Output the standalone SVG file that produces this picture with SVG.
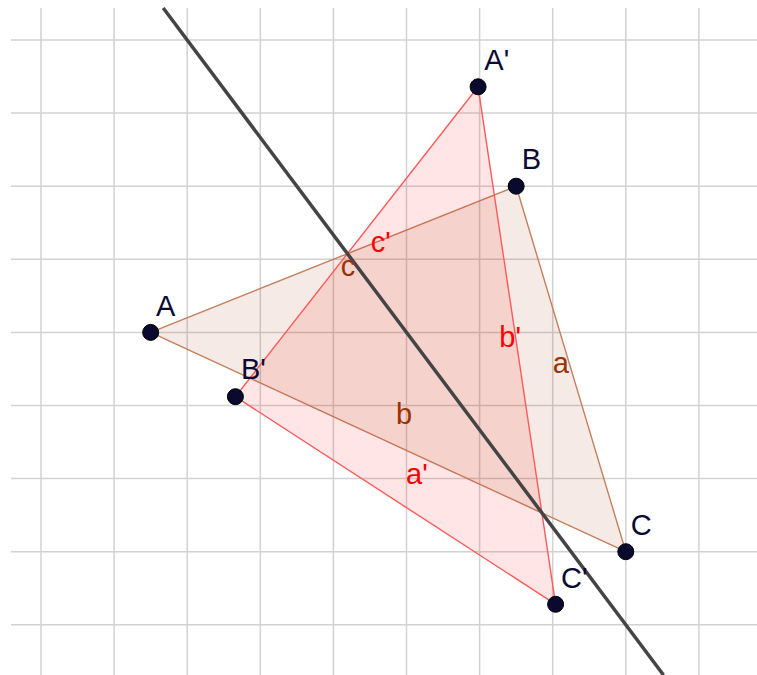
<svg xmlns="http://www.w3.org/2000/svg" width="757" height="675" viewBox="0 0 757 675">
<style>
.grid line{stroke:#d2d2d2;stroke-width:1.5}
.pt{fill:#0a0a2e;stroke:#000;stroke-width:1}
.pl{font-family:"Liberation Sans",Arial,sans-serif;font-size:29px;fill:#0a0a33}
.sl{font-family:"Liberation Sans",Arial,sans-serif;font-size:29px}
.br{fill:#993300}
.rd{fill:#ff0000}
</style>
<rect width="757" height="675" fill="#ffffff"/>
<g class="grid" id="grid">
<line x1="41" y1="8" x2="41" y2="675"/>
<line x1="114.1" y1="8" x2="114.1" y2="675"/>
<line x1="187.2" y1="8" x2="187.2" y2="675"/>
<line x1="260.3" y1="8" x2="260.3" y2="675"/>
<line x1="333.4" y1="8" x2="333.4" y2="675"/>
<line x1="406.5" y1="8" x2="406.5" y2="675"/>
<line x1="479.6" y1="8" x2="479.6" y2="675"/>
<line x1="552.7" y1="8" x2="552.7" y2="675"/>
<line x1="625.8" y1="8" x2="625.8" y2="675"/>
<line x1="698.9" y1="8" x2="698.9" y2="675"/>
<line x1="11" y1="40" x2="757" y2="40"/>
<line x1="11" y1="113.1" x2="757" y2="113.1"/>
<line x1="11" y1="186.2" x2="757" y2="186.2"/>
<line x1="11" y1="259.3" x2="757" y2="259.3"/>
<line x1="11" y1="332.4" x2="757" y2="332.4"/>
<line x1="11" y1="405.5" x2="757" y2="405.5"/>
<line x1="11" y1="478.6" x2="757" y2="478.6"/>
<line x1="11" y1="551.7" x2="757" y2="551.7"/>
<line x1="11" y1="624.8" x2="757" y2="624.8"/>
</g>
<g id="connectors">
<polygon id="triABC" points="150.65,332.4 516.15,186.2 625.8,551.7" fill="#993300" fill-opacity="0.1" stroke="#c2805c" stroke-width="1.4" stroke-linejoin="round"/>
<polygon id="triA1B1C1" points="478.1,86.8 235.4,396.7 555.6,604.3" fill="#ff0000" fill-opacity="0.1" stroke="#ff5a5a" stroke-width="1.4" stroke-linejoin="round"/>
<line id="mirror" x1="163.2" y1="8" x2="663.5" y2="675" stroke="#444444" stroke-width="3.5"/>
</g>
<g id="segment-labels">
<text class="sl br" x="340.7" y="276">c</text>
<text class="sl rd" x="370.7" y="251.7">c'</text>
<text class="sl br" x="396" y="424.3">b</text>
<text class="sl rd" x="406" y="484">a'</text>
<text class="sl rd" x="499.3" y="346.7">b'</text>
<text class="sl br" x="552.7" y="373.3">a</text>
</g>
<g id="A"><circle class="pt" cx="150.65" cy="332.4" r="8"/><text class="pl" x="156" y="316">A</text></g>
<g id="B"><circle class="pt" cx="516.15" cy="186.2" r="8"/><text class="pl" x="521.7" y="169.3">B</text></g>
<g id="C"><circle class="pt" cx="625.8" cy="551.7" r="8"/><text class="pl" x="630.7" y="535">C</text></g>
<g id="A1"><circle class="pt" cx="478.1" cy="86.8" r="8"/><text class="pl" x="484.3" y="70">A'</text></g>
<g id="B1"><circle class="pt" cx="235.4" cy="396.7" r="8"/><text class="pl" x="241" y="379.3">B'</text></g>
<g id="C1"><circle class="pt" cx="555.6" cy="604.3" r="8"/><text class="pl" x="561" y="587.7">C'</text></g>
</svg>
